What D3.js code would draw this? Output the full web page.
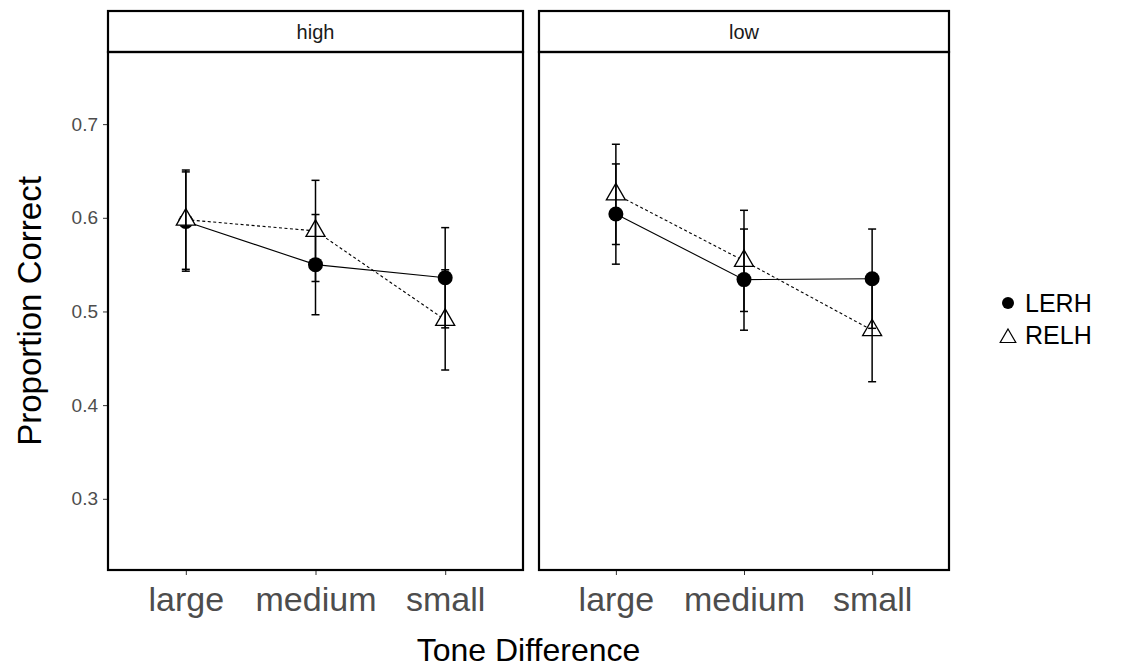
<!DOCTYPE html>
<html>
<head>
<meta charset="utf-8">
<script src="https://cdn.jsdelivr.net/npm/d3@7"></script>
<style>
  html, body { margin: 0; padding: 0; background: #fff; }
  svg { display: block; font-family: "Liberation Sans", Arial, sans-serif; }
</style>
</head>
<body>
<svg id="chart" width="1123" height="670"></svg>
<script>
// ---- data ----
const categories = ["large", "medium", "small"];
const facets = ["high", "low"];
const seriesNames = ["LERH", "RELH"];
const yTicks = [0.3, 0.4, 0.5, 0.6, 0.7];

const LERH_high = [0.596, 0.550, 0.536];
const LERH_high_se = [0.053, 0.0535, 0.0535];
const RELH_high = [0.598, 0.586, 0.491];
const RELH_high_se = [0.053, 0.054, 0.0535];

const LERH_low = [0.604, 0.534, 0.535];
const LERH_low_se = [0.0535, 0.054, 0.053];
const RELH_low = [0.625, 0.554, 0.480];
const RELH_low_se = [0.0535, 0.054, 0.055];

const dataByFacet = {
  high: { LERH: [LERH_high, LERH_high_se], RELH: [RELH_high, RELH_high_se] },
  low:  { LERH: [LERH_low, LERH_low_se],  RELH: [RELH_low, RELH_low_se] }
};

// ---- layout ----
const svg = d3.select("#chart");
const panelTop = 52, panelBottom = 570, stripTop = 11;
const panels = [ { x0: 108, x1: 523 }, { x0: 539, x1: 949 } ];

const y = d3.scaleLinear().domain([0.224, 0.777]).range([panelBottom, panelTop]);

const triPath = (r) => {
  const hw = r * Math.sqrt(3) / 2;
  return `M0,${-r}L${hw},${r / 2}L${-hw},${r / 2}Z`;
};

facets.forEach((f, i) => {
  const p = panels[i];
  const x = d3.scalePoint().domain(categories).range([p.x0, p.x1]).padding(0.6);
  const g = svg.append("g");

  // strip
  g.append("rect").attr("x", p.x0).attr("y", stripTop)
    .attr("width", p.x1 - p.x0).attr("height", panelTop - stripTop)
    .attr("fill", "#fff").attr("stroke", "#000").attr("stroke-width", 2.2);
  g.append("text").attr("x", (p.x0 + p.x1) / 2).attr("y", (stripTop + panelTop) / 2)
    .attr("text-anchor", "middle").attr("dominant-baseline", "central")
    .attr("font-size", 20).attr("fill", "#1a1a1a").text(f);

  // x axis
  const xAxis = d3.axisBottom(x).tickSize(5).tickPadding(12);
  const xg = g.append("g").attr("transform", `translate(0,${panelBottom})`).call(xAxis);
  xg.select(".domain").remove();
  xg.selectAll(".tick line").attr("stroke", "#333").attr("stroke-width", 1);
  xg.selectAll(".tick text").attr("font-size", 34).attr("fill", "#4d4d4d")
    .attr("font-family", "Liberation Sans, Arial, sans-serif");

  if (i === 0) {
    const yAxis = d3.axisLeft(y).tickValues(yTicks).tickFormat(d3.format(".1f")).tickSize(5).tickPadding(5);
    const yg = g.append("g").attr("transform", `translate(${p.x0},0)`).call(yAxis);
    yg.select(".domain").remove();
    yg.selectAll(".tick line").attr("stroke", "#333").attr("stroke-width", 1);
    yg.selectAll(".tick text").attr("font-size", 19).attr("fill", "#4d4d4d")
      .attr("font-family", "Liberation Sans, Arial, sans-serif");
  }

  const d = dataByFacet[f];
  const pts = (name) => categories.map((c, k) => ({ c, v: d[name][0][k], se: d[name][1][k] }));

  const line = d3.line().x(q => x(q.c)).y(q => y(q.v));
  // lines
  g.append("path").datum(pts("LERH")).attr("d", line)
    .attr("fill", "none").attr("stroke", "#000").attr("stroke-width", 1.1);
  g.append("path").datum(pts("RELH")).attr("d", line)
    .attr("fill", "none").attr("stroke", "#000").attr("stroke-width", 1.1)
    .attr("stroke-dasharray", "3,2.5");

  // points
  g.selectAll(".lerh").data(pts("LERH")).join("circle")
    .attr("cx", q => x(q.c)).attr("cy", q => y(q.v)).attr("r", 7.5).attr("fill", "#000");
  g.selectAll(".relh").data(pts("RELH")).join("path")
    .attr("transform", q => `translate(${x(q.c)},${y(q.v)})`)
    .attr("d", triPath(11)).attr("fill", "#fff").attr("stroke", "#000").attr("stroke-width", 1.3);

  // error bars
  seriesNames.forEach(name => {
    const eg = g.append("g").attr("stroke", "#000").attr("stroke-width", 1.5);
    pts(name).forEach(q => {
      const cx = x(q.c), lo = y(q.v - q.se), hi = y(q.v + q.se);
      eg.append("line").attr("x1", cx).attr("x2", cx).attr("y1", lo).attr("y2", hi);
      eg.append("line").attr("x1", cx - 4).attr("x2", cx + 4).attr("y1", lo).attr("y2", lo);
      eg.append("line").attr("x1", cx - 4).attr("x2", cx + 4).attr("y1", hi).attr("y2", hi);
    });
  });

  // panel border
  g.append("rect").attr("x", p.x0).attr("y", panelTop)
    .attr("width", p.x1 - p.x0).attr("height", panelBottom - panelTop)
    .attr("fill", "none").attr("stroke", "#000").attr("stroke-width", 2.2);
});

// axis titles
svg.append("text").attr("x", (panels[0].x0 + panels[1].x1) / 2).attr("y", 661)
  .attr("text-anchor", "middle")
  .attr("font-size", 32).attr("fill", "#000").text("Tone Difference");
svg.append("text")
  .attr("transform", `translate(29,${(panelTop + panelBottom) / 2}) rotate(-90)`)
  .attr("text-anchor", "middle").attr("dominant-baseline", "central")
  .attr("font-size", 33).attr("fill", "#000").text("Proportion Correct");

// legend
const lg = svg.append("g");
const legY = [303, 335];
lg.append("circle").attr("cx", 1008).attr("cy", legY[0]).attr("r", 6).attr("fill", "#000");
lg.append("path").attr("transform", `translate(1008,${legY[1] + 3})`).attr("d", triPath(9))
  .attr("fill", "#fff").attr("stroke", "#000").attr("stroke-width", 1.2);
seriesNames.forEach((n, k) => {
  lg.append("text").attr("x", 1025).attr("y", legY[k]).attr("dominant-baseline", "central")
    .attr("font-size", 25).attr("fill", "#000").text(n);
});
</script>
</body>
</html>
